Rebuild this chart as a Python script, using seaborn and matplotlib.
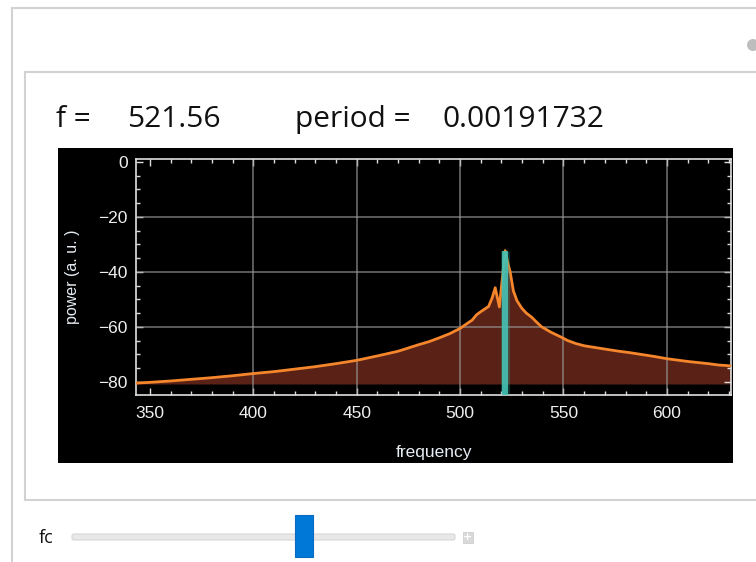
import matplotlib
matplotlib.use("Agg")
import matplotlib.pyplot as plt
import seaborn as sns
import pandas as pd
from matplotlib.patches import Rectangle, FancyBboxPatch, Ellipse
from matplotlib.lines import Line2D
from matplotlib.ticker import MultipleLocator

# ---- data ----
freq = [343, 350, 360, 370, 380, 390, 400, 410, 420, 430, 440, 450, 460, 470, 475,
        480, 485, 490, 495, 500, 503, 505.8, 508, 510.6, 513.8, 515.5, 517, 519,
        521.8, 523, 524.2, 525.8, 527.5, 529.8, 532, 534.6, 537, 539.4, 544, 549,
        552, 556, 560, 565, 570, 576, 582, 588, 594, 600, 610, 620, 625, 631]
power = [-80.5, -80.2, -79.7, -79.1, -78.5, -77.8, -77.0, -76.3, -75.4, -74.5, -73.4,
         -72.2, -70.6, -68.9, -67.7, -66.5, -65.4, -64.0, -62.5, -60.6, -59.0, -57.6,
         -55.6, -54.2, -52.6, -49.5, -45.8, -52.8, -32.3, -36.5, -40.0, -47.0, -50.5,
         -53.2, -55.0, -56.5, -58.3, -60.0, -62.0, -63.8, -65.0, -66.1, -66.9, -67.5,
         -68.1, -68.8, -69.4, -70.1, -70.8, -71.6, -72.6, -73.4, -73.9, -74.2]
fc = 521.56
period = 0.00191732
baseline = -80.8
xticks = [350, 400, 450, 500, 550, 600]
yticks = [0, -20, -40, -60, -80]
grid_x = [400, 450, 500, 550, 600]
grid_y = [-20, -40, -60]

df = pd.DataFrame({"frequency": freq, "power": power})

W, H = 756, 562
fig = plt.figure(figsize=(W / 100, H / 100), dpi=100)
fig.patch.set_facecolor("white")


def fx(x):
    return x / W


def fy(y):
    return 1 - y / H


# ---- frames ----
frame_c = "#d2d2d2"
fig.add_artist(Line2D([fx(12), fx(12)], [fy(8), fy(562)], color=frame_c, lw=1.5))
fig.add_artist(Line2D([fx(12), fx(756)], [fy(8), fy(8)], color=frame_c, lw=1.5))
fig.add_artist(Line2D([fx(25), fx(25)], [fy(72), fy(500)], color=frame_c, lw=1.5))
fig.add_artist(Line2D([fx(25), fx(756)], [fy(72), fy(72)], color=frame_c, lw=1.5))
fig.add_artist(Line2D([fx(25), fx(756)], [fy(500), fy(500)], color=frame_c, lw=1.5))
fig.add_artist(Ellipse((fx(753), fy(45)), 12 / W, 12 / H, transform=fig.transFigure,
                       facecolor="#bdbdbd", edgecolor="none"))

# ---- header text ----
hdr = dict(fontsize=21.5, family=["Open Sans", "DejaVu Sans"], color="#111111",
           va="baseline")
fig.text(fx(56), fy(126.7), "f =", **hdr)
fig.text(fx(127), fy(126.7), f"{fc:.2f}", **hdr)
fig.text(fx(295), fy(126.7), "period =", **hdr)
fig.text(fx(442), fy(126.7), f"{period:.8f}", **hdr)

# ---- black panel ----
fig.add_artist(Rectangle((fx(58), fy(463)), (733 - 58) / W, (463 - 148) / H,
                         transform=fig.transFigure, facecolor="black",
                         edgecolor="none", zorder=0))

ax = fig.add_axes([fx(136), fy(395), (731 - 136) / W, (395 - 159) / H])
ax.set_facecolor("black")
ax.set_zorder(1)

ax.fill_between(df["frequency"], df["power"], baseline, color="#5a2216", lw=0, zorder=1)
for gx in grid_x:
    ax.axvline(gx, color="#9a9a9a", lw=1.1, alpha=0.75, zorder=2)
for gy in grid_y:
    ax.axhline(gy, color="#9a9a9a", lw=1.1, alpha=0.75, zorder=2)
sns.lineplot(data=df, x="frequency", y="power", ax=ax, color="#f5862c", lw=2,
             zorder=3, estimator=None, sort=False)
ax.vlines(fc, -85, -32.3, color="#2fa89c", lw=6.5, alpha=0.3, zorder=4)
ax.vlines(fc, -85, -32.3, color="#46c2b4", lw=4.3, alpha=0.9, zorder=5)

ax.set_xlim(343.3, 631)
ax.set_ylim(-84.8, 1.0)
ax.set_xticks(xticks)
ax.set_yticks(yticks)
ax.set_yticklabels([f"\u2212{abs(v)}" if v < 0 else f"{v}" for v in yticks])
ax.xaxis.set_minor_locator(MultipleLocator(10))
ax.yaxis.set_minor_locator(MultipleLocator(5))
tick_c = "#dcdcdc"
ax.tick_params(which="both", direction="in", top=True, right=True, color=tick_c,
               labelcolor="#eeeeee", labelsize=12.5, width=1)
ax.tick_params(which="major", length=5)
ax.tick_params(which="minor", length=3)
ax.tick_params(axis="x", which="major", pad=8)
ax.tick_params(axis="y", which="major", pad=6)
for lab in ax.get_xticklabels() + ax.get_yticklabels():
    lab.set_family(["Liberation Sans", "DejaVu Sans"])
for s in ax.spines.values():
    s.set_color("#e0e0e0")
    s.set_linewidth(1.2)
ax.set_xlabel("frequency", color="#e8eef5", fontsize=12.5,
              family=["Liberation Sans", "DejaVu Sans"], labelpad=17)
ax.set_ylabel("power (a. u. )", color="#e8eef5", fontsize=11.5,
              family=["Liberation Sans", "DejaVu Sans"], labelpad=13)

# ---- slider ----
fig.text(fx(39), fy(543), "fc", fontsize=13, family=["Open Sans", "DejaVu Sans"],
         color="#111111", va="baseline")
fig.add_artist(FancyBboxPatch((fx(72), fy(540)), (455 - 72) / W, 6 / H,
                              boxstyle="round,pad=0,rounding_size=0.003",
                              transform=fig.transFigure, facecolor="#e8e8e8",
                              edgecolor="#d6d6d6", lw=0.8))
fig.add_artist(Rectangle((fx(295), fy(557)), 18 / W, 42 / H, transform=fig.transFigure,
                         facecolor="#0078d7", edgecolor="#0a6cc0", lw=0.8))
fig.add_artist(Rectangle((fx(463), fy(543)), 10 / W, 11 / H, transform=fig.transFigure,
                         facecolor="#d9d9d9", edgecolor="#cfcfcf", lw=0.6))
fig.text(fx(468), fy(537.5), "+", fontsize=8, color="white", ha="center", va="center",
         fontweight="bold")

fig.savefig("out.png", dpi=100, facecolor="white")
